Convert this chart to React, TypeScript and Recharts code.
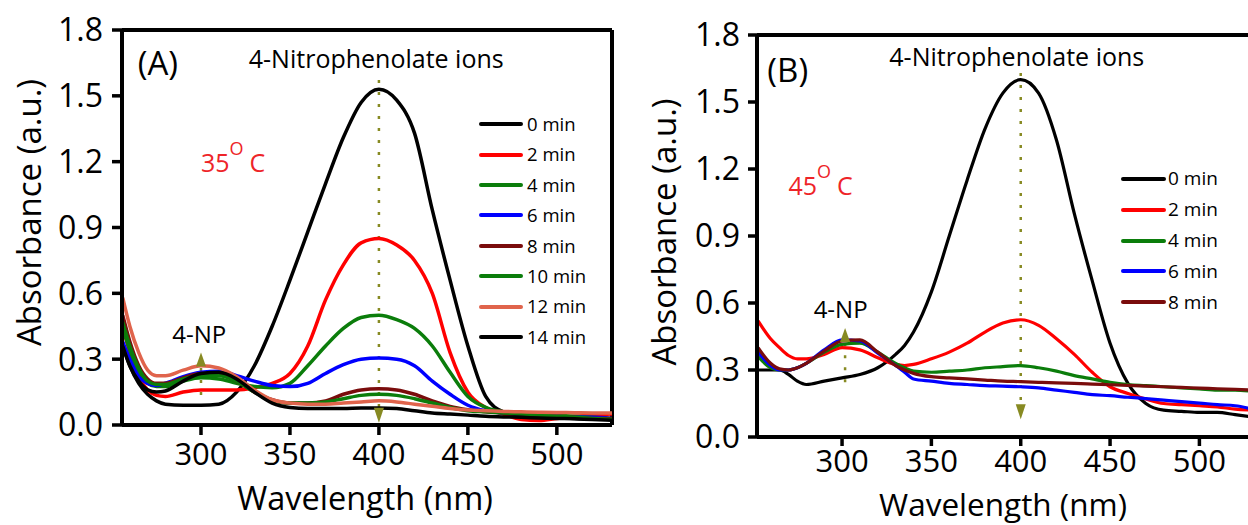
import React from 'react';
import { LineChart, Line, XAxis, YAxis, ReferenceLine, ReferenceDot, Legend } from 'recharts';

const FONT = '"Open Sans", "Noto Sans", "DejaVu Sans", sans-serif';
const OLIVE = '#878a22';
const TEMP_RED = '#ee2428';

const xTicks = [300, 350, 400, 450, 500];
const yTicks = [0, 0.3, 0.6, 0.9, 1.2, 1.5, 1.8];

// ---------- Panel A (35 °C) ----------
const wavelengthA = [256, 260, 265, 270, 275, 280, 290, 300, 310, 320, 330, 340, 350, 360, 370, 380, 390, 400, 410, 420, 430, 440, 450, 460, 470, 480, 490, 500, 510, 520, 531];
const a0min = [0.36, 0.27, 0.19, 0.14, 0.11, 0.095, 0.09, 0.09, 0.095, 0.15, 0.27, 0.45, 0.66, 0.88, 1.10, 1.31, 1.47, 1.53, 1.48, 1.33, 0.98, 0.66, 0.36, 0.13, 0.06, 0.045, 0.04, 0.035, 0.03, 0.028, 0.025];
const a2min = [0.45, 0.33, 0.22, 0.16, 0.135, 0.13, 0.15, 0.16, 0.16, 0.16, 0.17, 0.19, 0.235, 0.36, 0.57, 0.73, 0.83, 0.85, 0.82, 0.75, 0.60, 0.33, 0.15, 0.08, 0.05, 0.025, 0.02, 0.03, 0.04, 0.045, 0.05];
const a4min = [0.44, 0.34, 0.24, 0.19, 0.175, 0.175, 0.2, 0.215, 0.21, 0.19, 0.175, 0.17, 0.19, 0.27, 0.36, 0.44, 0.49, 0.50, 0.48, 0.44, 0.36, 0.24, 0.13, 0.08, 0.06, 0.055, 0.05, 0.045, 0.04, 0.035, 0.03];
const a6min = [0.38, 0.30, 0.22, 0.19, 0.18, 0.19, 0.22, 0.24, 0.245, 0.225, 0.20, 0.18, 0.175, 0.19, 0.235, 0.275, 0.30, 0.305, 0.30, 0.27, 0.20, 0.14, 0.09, 0.065, 0.055, 0.05, 0.045, 0.04, 0.035, 0.035, 0.03];
const a8min = [0.50, 0.38, 0.27, 0.21, 0.19, 0.19, 0.215, 0.235, 0.23, 0.20, 0.15, 0.115, 0.10, 0.10, 0.11, 0.14, 0.16, 0.165, 0.16, 0.14, 0.11, 0.085, 0.07, 0.06, 0.055, 0.05, 0.045, 0.04, 0.035, 0.03, 0.03];
const a10min = [0.47, 0.36, 0.26, 0.20, 0.185, 0.185, 0.21, 0.225, 0.225, 0.20, 0.15, 0.11, 0.10, 0.10, 0.105, 0.12, 0.135, 0.14, 0.135, 0.12, 0.10, 0.08, 0.065, 0.06, 0.055, 0.05, 0.045, 0.04, 0.035, 0.03, 0.025];
const a12min = [0.58, 0.45, 0.33, 0.25, 0.225, 0.225, 0.25, 0.27, 0.26, 0.22, 0.16, 0.115, 0.10, 0.095, 0.095, 0.10, 0.105, 0.11, 0.105, 0.095, 0.085, 0.075, 0.068, 0.065, 0.062, 0.06, 0.058, 0.057, 0.056, 0.055, 0.055];
const a14min = [0.36, 0.27, 0.20, 0.16, 0.15, 0.155, 0.20, 0.235, 0.24, 0.21, 0.15, 0.10, 0.08, 0.075, 0.075, 0.075, 0.078, 0.078, 0.075, 0.065, 0.055, 0.05, 0.045, 0.04, 0.037, 0.035, 0.032, 0.03, 0.028, 0.025, 0.022];

const timeLabelsA = ['0 min', '2 min', '4 min', '6 min', '8 min', '10 min', '12 min', '14 min'];
const colorsA = ['#000000', '#ff0000', '#0b7d0b', '#0000ff', '#7a0c0c', '#0b7d0b', '#e0644c', '#000000'];
const valuesA = [a0min, a2min, a4min, a6min, a8min, a10min, a12min, a14min];

// ---------- Panel B (45 °C) ----------
const wavelengthB = [253, 260, 265, 270, 275, 280, 290, 300, 310, 320, 330, 335, 340, 350, 360, 370, 380, 390, 400, 410, 420, 430, 440, 450, 460, 470, 480, 490, 500, 510, 520, 530];
const b0min = [0.30, 0.30, 0.30, 0.28, 0.25, 0.235, 0.25, 0.265, 0.28, 0.31, 0.37, 0.41, 0.47, 0.65, 0.90, 1.15, 1.38, 1.54, 1.60, 1.54, 1.33, 1.0, 0.70, 0.42, 0.24, 0.15, 0.12, 0.115, 0.11, 0.11, 0.10, 0.09];
const b2min = [0.52, 0.44, 0.40, 0.365, 0.35, 0.35, 0.37, 0.40, 0.39, 0.355, 0.325, 0.32, 0.325, 0.35, 0.38, 0.42, 0.47, 0.51, 0.525, 0.50, 0.44, 0.37, 0.29, 0.225, 0.195, 0.17, 0.15, 0.145, 0.14, 0.135, 0.125, 0.12];
const b4min = [0.36, 0.31, 0.30, 0.30, 0.31, 0.33, 0.38, 0.415, 0.42, 0.38, 0.33, 0.31, 0.295, 0.29, 0.295, 0.30, 0.31, 0.315, 0.32, 0.31, 0.295, 0.275, 0.26, 0.245, 0.235, 0.23, 0.225, 0.22, 0.215, 0.21, 0.21, 0.205];
const b6min = [0.38, 0.32, 0.30, 0.30, 0.31, 0.33, 0.39, 0.435, 0.43, 0.375, 0.32, 0.29, 0.26, 0.25, 0.24, 0.235, 0.23, 0.228, 0.225, 0.22, 0.21, 0.20, 0.19, 0.185, 0.178, 0.172, 0.165, 0.158, 0.152, 0.145, 0.14, 0.125];
const b8min = [0.40, 0.33, 0.305, 0.30, 0.31, 0.33, 0.385, 0.43, 0.435, 0.38, 0.32, 0.30, 0.285, 0.27, 0.265, 0.26, 0.255, 0.25, 0.248, 0.245, 0.242, 0.24, 0.237, 0.234, 0.231, 0.228, 0.225, 0.222, 0.219, 0.216, 0.213, 0.21];

const timeLabelsB = ['0 min', '2 min', '4 min', '6 min', '8 min'];
const colorsB = ['#000000', '#ff0000', '#0b7d0b', '#0000ff', '#7a0c0c'];
const valuesB = [b0min, b2min, b4min, b6min, b8min];

// ---------- annotations ----------
type Note = { x: number; y: number; text: string; size: number; anchor: 'start' | 'middle'; temp?: boolean };
const notesA: Note[] = [
  { x: 264.4, y: 1.595, text: '(A)', size: 33, anchor: 'start' },
  { x: 398.5, y: 1.627, text: '4-Nitrophenolate ions', size: 25, anchor: 'middle' },
  { x: 300, y: 1.153, text: '35', size: 25, anchor: 'start', temp: true },
  { x: 299, y: 0.374, text: '4-NP', size: 24, anchor: 'middle' },
];
const notesB: Note[] = [
  { x: 258.2, y: 1.59, text: '(B)', size: 33, anchor: 'start' },
  { x: 397.8, y: 1.659, text: '4-Nitrophenolate ions', size: 25, anchor: 'middle' },
  { x: 270, y: 1.084, text: '45', size: 25, anchor: 'start', temp: true },
  { x: 299.2, y: 0.533, text: '4-NP', size: 24, anchor: 'middle' },
];

type Arrow = { x: number; from: number; to: number; tip: number; dir: 'up' | 'down' };
const arrowsA: Arrow[] = [
  { x: 400, from: 1.572, to: 0.08, tip: 0.01, dir: 'down' },
  { x: 300, from: 0.26, to: 0.06, tip: 0.33, dir: 'up' },
];
const arrowsB: Arrow[] = [
  { x: 400, from: 1.63, to: 0.145, tip: 0.08, dir: 'down' },
  { x: 301.7, from: 0.42, to: 0.22, tip: 0.488, dir: 'up' },
];

type PanelProps = {
  left: number;
  width: number;
  margin: { top: number; right: number; bottom: number; left: number };
  xDomain: [number, number];
  wavelengths: number[];
  labels: string[];
  colors: string[];
  values: number[][];
  notes: Note[];
  arrows: Arrow[];
  lineWidth: number;
  tickSize: number;
  yTickMargin: number;
  xTickMargin: number;
  xTickFont: number;
  xTitleDy: number;
  xTitleFont: number;
  yTitleShift: number;
  legend: { left: number; top: number; rowH: number; lineW: number; gap: number; fontSize: number };
};

function Panel(p: PanelProps) {
  const keys = p.labels.map((_, i) => 's' + i);
  const data = p.wavelengths.map((w, i) => {
    const row: Record<string, number> = { w };
    keys.forEach((k, j) => {
      row[k] = p.values[j][i];
    });
    return row;
  });
  const plotLeft = p.margin.left + 1;
  const plotW = p.width - plotLeft - p.margin.right;
  const plotBottom = 525 - p.margin.bottom - 1;
  const plotH = plotBottom - p.margin.top;

  const xTitle = (props: any) => {
    const vb = props && props.viewBox ? props.viewBox : {};
    const x = (vb.x ?? plotLeft) + (vb.width ?? plotW) / 2 - 2;
    const y = (vb.y ?? plotBottom) + p.xTitleDy;
    return (
      <text x={x} y={y} textAnchor="middle" fontSize={p.xTitleFont} fill="#000" fontFamily={FONT}>
        Wavelength (nm)
      </text>
    );
  };
  const yTitle = (props: any) => {
    const vb = props && props.viewBox ? props.viewBox : {};
    const x = (vb.x ?? p.margin.left) + (vb.width ?? 1) - 81;
    const y = (vb.y ?? p.margin.top) + (vb.height ?? plotH) / 2 + p.yTitleShift;
    return (
      <text x={x} y={y} transform={`rotate(-90, ${x}, ${y})`} textAnchor="middle" fontSize={33} fill="#000" fontFamily={FONT}>
        Absorbance (a.u.)
      </text>
    );
  };

  const legendContent = () => {
    const L = p.legend;
    return (
      <div style={{ fontFamily: FONT }}>
        {p.labels.map((lab, i) => (
          <div key={i} style={{ display: 'flex', alignItems: 'center', height: L.rowH }}>
            <div style={{ width: L.lineW, height: 4, background: p.colors[i], borderRadius: 2 }} />
            <span style={{ marginLeft: L.gap, fontSize: L.fontSize, lineHeight: 1, color: '#000' }}>{lab}</span>
          </div>
        ))}
      </div>
    );
  };

  return (
    <div style={{ position: 'absolute', left: p.left, top: 0 }}>
      <LineChart width={p.width} height={525} data={data} margin={p.margin}>
        <XAxis
          dataKey="w"
          type="number"
          domain={p.xDomain}
          allowDataOverflow
          ticks={xTicks}
          height={1}
          tickSize={p.tickSize}
          tickMargin={p.xTickMargin}
          tick={{ fill: '#000', fontSize: p.xTickFont, fontFamily: FONT }}
          axisLine={{ stroke: '#000', strokeWidth: 4 }}
          tickLine={{ stroke: '#000', strokeWidth: 3.5 }}
          label={xTitle}
        />
        <YAxis
          type="number"
          domain={[0, 1.8]}
          allowDataOverflow
          ticks={yTicks}
          width={1}
          tickSize={p.tickSize}
          tickMargin={p.yTickMargin}
          tickFormatter={(v: number) => v.toFixed(1)}
          tick={{ fill: '#000', fontSize: 32, fontFamily: FONT }}
          axisLine={{ stroke: '#000', strokeWidth: 4 }}
          tickLine={{ stroke: '#000', strokeWidth: 3.5 }}
          label={yTitle}
        />
        <ReferenceLine y={1.8} stroke="#000" strokeWidth={4} />
        <ReferenceLine x={p.xDomain[1]} stroke="#000" strokeWidth={4} />
        {p.arrows.map((a, i) => (
          <ReferenceLine
            key={'seg' + i}
            segment={[{ x: a.x, y: a.from }, { x: a.x, y: a.to }]}
            stroke={OLIVE}
            strokeWidth={2.5}
            strokeDasharray="3 9"
          />
        ))}
        {keys.map((k, j) => (
          <Line
            key={k}
            dataKey={k}
            name={p.labels[j]}
            stroke={p.colors[j]}
            strokeWidth={p.lineWidth}
            type="monotone"
            dot={false}
            activeDot={false}
            isAnimationActive={false}
          />
        ))}
        {p.arrows.map((a, i) => (
          <ReferenceDot
            key={'head' + i}
            x={a.x}
            y={a.tip}
            r={0}
            shape={(sp: any) => {
              const cx = sp.cx;
              const cy = sp.cy;
              const d =
                a.dir === 'down'
                  ? `M${cx - 5},${cy - 15} L${cx + 5},${cy - 15} L${cx},${cy} Z`
                  : `M${cx - 5},${cy + 14} L${cx + 5},${cy + 14} L${cx},${cy} Z`;
              return <path d={d} fill={OLIVE} />;
            }}
          />
        ))}
        {p.notes.map((n, i) => (
          <ReferenceDot
            key={'note' + i}
            x={n.x}
            y={n.y}
            r={0}
            shape={(sp: any) =>
              n.temp ? (
                <text x={sp.cx} y={sp.cy} fontSize={n.size} fill={TEMP_RED} fontFamily={FONT} textAnchor="start">
                  <tspan>{n.text}</tspan>
                  <tspan dy={-17} fontSize={18}>O</tspan>
                  <tspan dy={17} dx={6} fontSize={n.size}>C</tspan>
                </text>
              ) : (
                <text x={sp.cx} y={sp.cy} fontSize={n.size} fill="#000" fontFamily={FONT} textAnchor={n.anchor}>
                  {n.text}
                </text>
              )
            }
          />
        ))}
        <Legend
          layout="vertical"
          align="center"
          verticalAlign="middle"
          wrapperStyle={{ left: p.legend.left, top: p.legend.top, width: 'auto' }}
          content={legendContent}
        />
      </LineChart>
    </div>
  );
}

export default function App() {
  return (
    <div
      style={{
        position: 'absolute',
        left: 0,
        top: 0,
        width: 1248,
        height: 525,
        overflow: 'hidden',
        background: '#fff',
        fontFamily: FONT,
      }}
    >
      <Panel
        left={0}
        width={640}
        margin={{ top: 30, right: 28, bottom: 99, left: 121 }}
        xDomain={[255.6, 531]}
        wavelengths={wavelengthA}
        labels={timeLabelsA}
        colors={colorsA}
        values={valuesA}
        notes={notesA}
        arrows={arrowsA}
        lineWidth={3.5}
        tickSize={10}
        yTickMargin={9}
        xTickMargin={8}
        xTickFont={31}
        xTitleDy={85}
        xTitleFont={32.5}
        yTitleShift={-15}
        legend={{ left: 479, top: 109, rowH: 30.4, lineW: 44, gap: 4, fontSize: 18.5 }}
      />
      <Panel
        left={640}
        width={640}
        margin={{ top: 35, right: 27, bottom: 87, left: 116 }}
        xDomain={[252.4, 530]}
        wavelengths={wavelengthB}
        labels={timeLabelsB}
        colors={colorsB}
        values={valuesB}
        notes={notesB}
        arrows={arrowsB}
        lineWidth={3.2}
        tickSize={9}
        yTickMargin={8}
        xTickMargin={4}
        xTickFont={31}
        xTitleDy={78.5}
        xTitleFont={31.5}
        yTitleShift={-4}
        legend={{ left: 481, top: 163.6, rowH: 30.8, lineW: 45, gap: 2, fontSize: 19 }}
      />
    </div>
  );
}
